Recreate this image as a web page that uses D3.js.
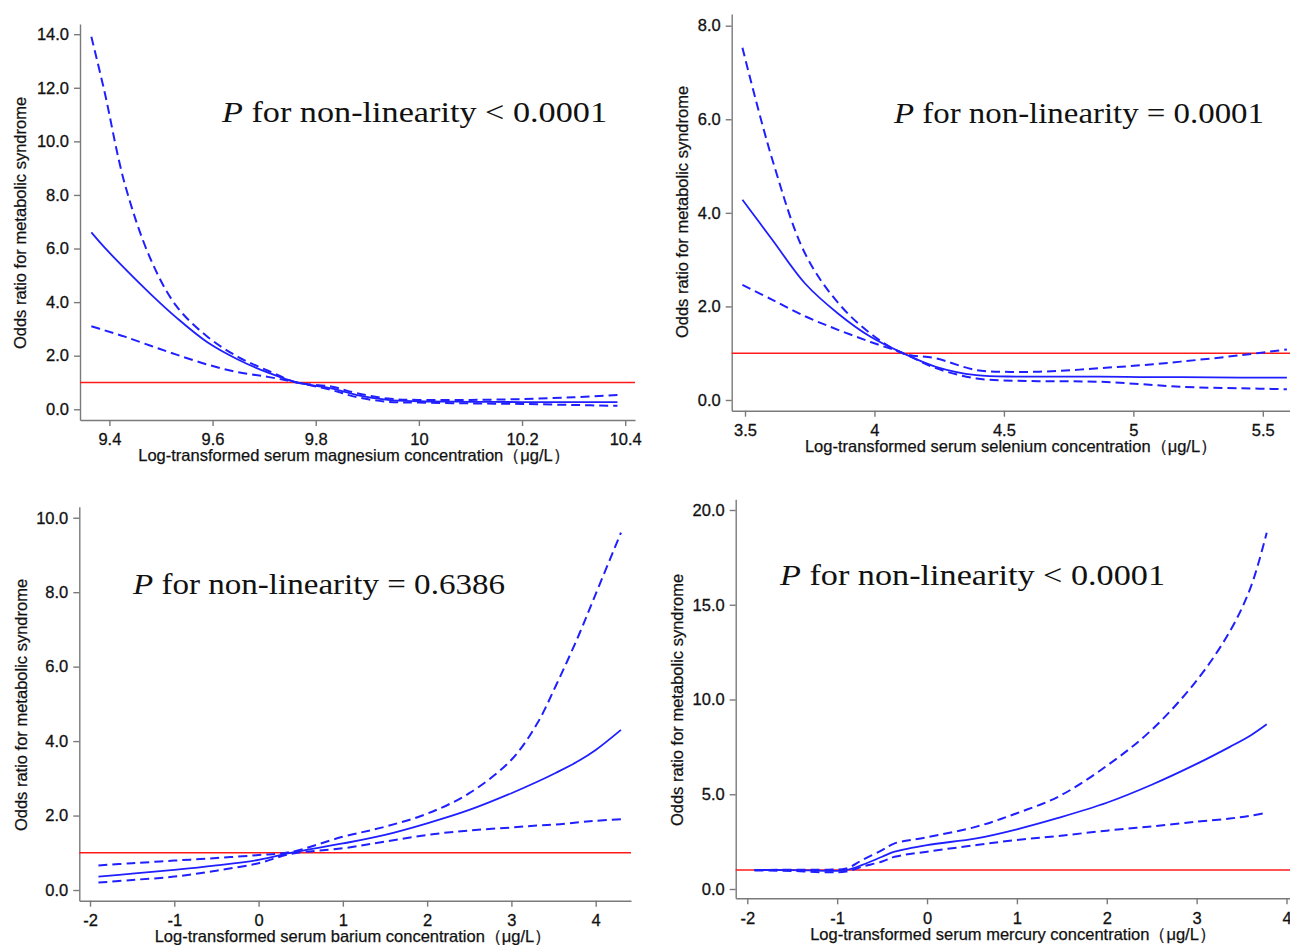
<!DOCTYPE html>
<html>
<head>
<meta charset="utf-8">
<script src="https://cdn.jsdelivr.net/npm/d3@7"></script>
<style>
body { margin: 0; background: #fff; }
svg { display: block; }
.tick text { font-family: "Liberation Sans", Arial, sans-serif; font-size: 16.5px; fill: #111; stroke: #111; stroke-width: 0.3; }
.domain, .tick line { stroke: #7a7a7a; stroke-width: 1.4; }
.axis-label { font-family: "Liberation Sans", Arial, sans-serif; font-size: 16.5px; fill: #111; stroke: #111; stroke-width: 0.25; }
.note { font-family: "Liberation Serif", "Times New Roman", serif; font-size: 30px; fill: #111; }
.ref-line { stroke: #ff1a1a; stroke-width: 1.6; }
.fit { fill: none; stroke: #1f1fff; stroke-width: 1.8; }
.ci { fill: none; stroke: #1f1fff; stroke-width: 2; stroke-dasharray: 9, 5; }
</style>
</head>
<body>
<svg id="chart" width="1290" height="945"></svg>
<script>

/* magnesium */
var mgX  = [9.365, 9.39, 9.43, 9.48, 9.53, 9.59, 9.65, 9.71, 9.763, 9.83, 9.88, 9.94, 10.0, 10.1, 10.2, 10.3, 10.385]
var mgOR = [6.6, 6.05, 5.25, 4.3, 3.42, 2.5, 1.85, 1.35, 1.0, 0.78, 0.53, 0.35, 0.3, 0.28, 0.27, 0.27, 0.27]
var mgHi = [13.9, 11.9, 8.4, 5.6, 3.85, 2.71, 1.95, 1.42, 1.0, 0.85, 0.6, 0.4, 0.35, 0.35, 0.38, 0.45, 0.53]
var mgLo = [3.1, 2.95, 2.71, 2.37, 2.04, 1.67, 1.38, 1.2, 1.0, 0.72, 0.45, 0.28, 0.25, 0.22, 0.2, 0.16, 0.13]

/* selenium */
var seX  = [3.49, 3.606, 3.732, 3.859, 3.985, 4.11, 4.237, 4.394, 4.551, 4.71, 4.867, 5.025, 5.183, 5.42, 5.593]
var seOR = [4.28, 3.42, 2.49, 1.85, 1.35, 1.0, 0.71, 0.53, 0.5, 0.5, 0.5, 0.49, 0.49, 0.48, 0.48]
var seHi = [7.53, 5.13, 3.13, 2.08, 1.42, 1.0, 0.89, 0.64, 0.6, 0.62, 0.68, 0.74, 0.82, 0.96, 1.08]
var seLo = [2.46, 2.14, 1.79, 1.5, 1.24, 1.0, 0.68, 0.46, 0.41, 0.4, 0.39, 0.34, 0.28, 0.25, 0.23]

/* barium */
var baX  = [-1.9, -1.5, -1.0, -0.5, 0.0, 0.38, 1.0, 1.5, 2.0, 2.5, 3.0, 3.3, 3.53, 3.8, 4.0, 4.3]
var baOR = [0.36, 0.44, 0.54, 0.66, 0.81, 1.0, 1.25, 1.48, 1.79, 2.15, 2.6, 2.9, 3.15, 3.47, 3.76, 4.3]
var baHi = [0.66, 0.72, 0.79, 0.86, 0.94, 1.02, 1.43, 1.7, 2.05, 2.6, 3.5, 4.45, 5.5, 6.85, 7.95, 9.6]
var baLo = [0.2, 0.27, 0.36, 0.52, 0.72, 0.97, 1.12, 1.3, 1.48, 1.6, 1.68, 1.73, 1.76, 1.82, 1.86, 1.9]

/* mercury */
var hgX  = [-1.92, -1.5, -1.1, -0.9, -0.72, -0.5, -0.36, 0.0, 0.55, 1.0, 1.46, 2.0, 2.5, 3.0, 3.37, 3.6, 3.78]
var hgOR = [1.0, 1.0, 0.96, 1.0, 1.27, 1.7, 1.97, 2.32, 2.67, 3.15, 3.75, 4.55, 5.5, 6.6, 7.5, 8.1, 8.69]
var hgHi = [1.0, 1.02, 1.02, 1.08, 1.53, 2.05, 2.41, 2.73, 3.29, 4.0, 4.87, 6.5, 8.4, 11.0, 13.6, 15.9, 18.8]
var hgLo = [0.98, 0.95, 0.88, 0.92, 1.18, 1.45, 1.7, 1.97, 2.32, 2.59, 2.8, 3.08, 3.3, 3.55, 3.72, 3.87, 4.03]

/* ticks */
var mgXTicks = [9.4, 9.6, 9.8, 10, 10.2, 10.4]
var mgYTicks = [0, 2, 4, 6, 8, 10, 12, 14]
var seXTicks = [3.5, 4, 4.5, 5, 5.5]
var seYTicks = [0, 2, 4, 6, 8]
var baXTicks = [-2, -1, 0, 1, 2, 3, 4]
var baYTicks = [0, 2, 4, 6, 8, 10]
var hgXTicks = [-2, -1, 0, 1, 2, 3, 4]
var hgYTicks = [0, 5, 10, 15, 20]

var yTitle = "Odds ratio for metabolic syndrome"

var panels = [
	{x: mgX, fit: mgOR, hi: mgHi, lo: mgLo, xTicks: mgXTicks, yTicks: mgYTicks,
	 xDomain: [9.343, 10.419], xRange: [80, 635], yDomain: [-0.4, 14.38], yRange: [420, 24],
	 xTitle: "Log-transformed serum magnesium concentration（μg/L）", xTitlePos: [354, 461], yTitlePos: [26, 223],
	 op: "<", p: "0.0001", notePos: [222, 122], noteWidth: 385},
	{x: seX, fit: seOR, hi: seHi, lo: seLo, xTicks: seXTicks, yTicks: seYTicks,
	 xDomain: [3.4486, 5.605], xRange: [731.7, 1290], yDomain: [-0.229, 8.25], yRange: [410.7, 14],
	 xTitle: "Log-transformed serum selenium concentration（μg/L）", xTitlePos: [1011, 452], yTitlePos: [688, 212],
	 op: "=", p: "0.0001", notePos: [894, 123], noteWidth: 370},
	{x: baX, fit: baOR, hi: baHi, lo: baLo, xTicks: baXTicks, yTicks: baYTicks,
	 xDomain: [-2.127, 4.419], xRange: [79.3, 631], yDomain: [-0.287, 10.296], yRange: [900.7, 506.7],
	 xTitle: "Log-transformed serum barium concentration（μg/L）", xTitlePos: [353, 942], yTitlePos: [26.5, 705],
	 op: "=", p: "0.6386", notePos: [133, 594], noteWidth: 372},
	{x: hgX, fit: hgOR, hi: hgHi, lo: hgLo, xTicks: hgXTicks, yTicks: hgYTicks,
	 xDomain: [-2.129, 4.039], xRange: [735.7, 1290], yDomain: [-0.491, 20.565], yRange: [898.3, 499.3],
	 xTitle: "Log-transformed serum mercury concentration（μg/L）", xTitlePos: [1013, 940], yTitlePos: [683, 700],
	 op: "<", p: "0.0001", notePos: [780, 585], noteWidth: 385}
]

var svg = d3.select("#chart")

drawPanel = function(cfg){

	var x = d3.scaleLinear().domain(cfg.xDomain).range(cfg.xRange)
	var y = d3.scaleLinear().domain(cfg.yDomain).range(cfg.yRange)

	var g = svg.append("g")

	g.append("g")
		.attr("transform", "translate(0," + cfg.yRange[0] + ")")
		.call(d3.axisBottom(x).tickValues(cfg.xTicks).tickSize(6).tickSizeOuter(0).tickPadding(7.6)
			.tickFormat(function(d){ return String(d) }))

	g.append("g")
		.attr("transform", "translate(" + cfg.xRange[0] + ",0)")
		.call(d3.axisLeft(y).tickValues(cfg.yTicks).tickSize(6).tickSizeOuter(0).tickPadding(5)
			.tickFormat(d3.format(".1f")))

	/* reference line at OR = 1 */
	g.append("line")
		.attr("class", "ref-line")
		.attr("x1", cfg.xRange[0])
		.attr("x2", cfg.xRange[1])
		.attr("y1", y(1))
		.attr("y2", y(1))

	var pts = function(vals){ return cfg.x.map(function(v, i){ return [v, vals[i]] }) }

	var line = d3.line()
		.curve(d3.curveCatmullRom.alpha(0.5))
		.x(function(d){ return x(d[0]) })
		.y(function(d){ return y(d[1]) })

	g.append("path").attr("class", "ci").attr("d", line(pts(cfg.hi)))
	g.append("path").attr("class", "ci").attr("d", line(pts(cfg.lo)))
	g.append("path").attr("class", "fit").attr("d", line(pts(cfg.fit)))

	g.append("text")
		.attr("class", "axis-label")
		.attr("x", cfg.xTitlePos[0])
		.attr("y", cfg.xTitlePos[1])
		.style("text-anchor", "middle")
		.text(cfg.xTitle)

	g.append("text")
		.attr("class", "axis-label")
		.attr("transform", "translate(" + cfg.yTitlePos[0] + "," + cfg.yTitlePos[1] + ") rotate(-90)")
		.style("text-anchor", "middle")
		.text(yTitle)

	var note = g.append("text")
		.attr("class", "note")
		.attr("x", cfg.notePos[0])
		.attr("y", cfg.notePos[1])
		.attr("textLength", cfg.noteWidth)
		.attr("lengthAdjust", "spacingAndGlyphs")

	note.append("tspan").style("font-style", "italic").text("P")
	note.append("tspan").text(" for non-linearity " + cfg.op + " " + cfg.p)
}

panels.forEach(drawPanel)

</script>
</body>
</html>
